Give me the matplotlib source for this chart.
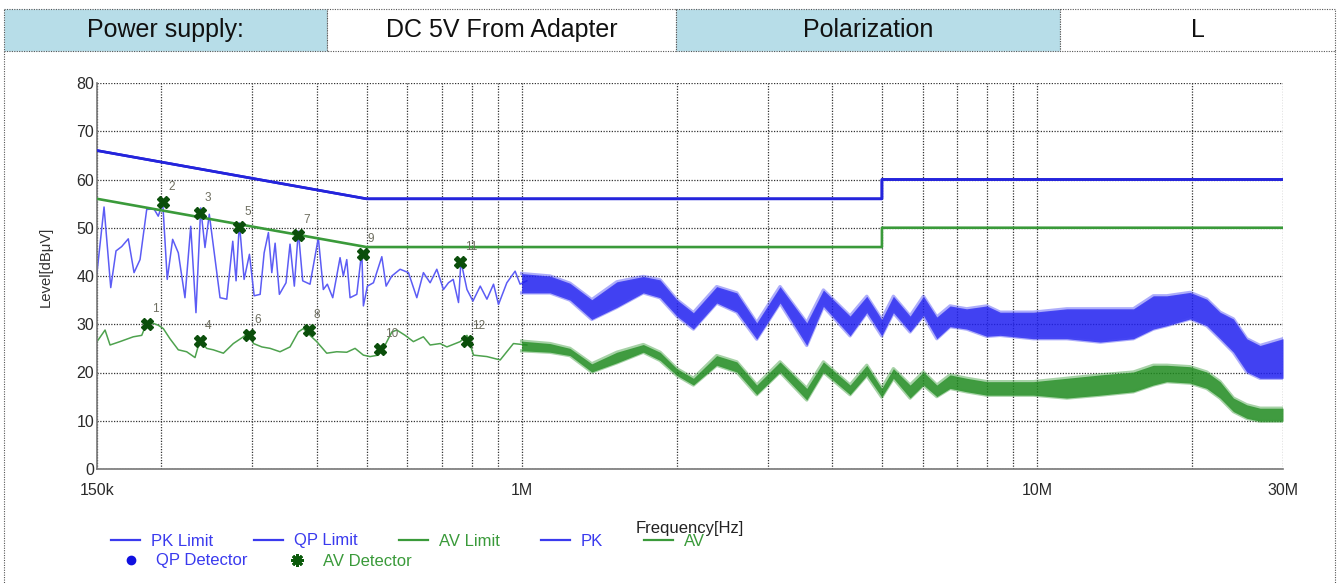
import numpy as np
import matplotlib.pyplot as plt
from matplotlib.lines import Line2D
from matplotlib.patches import Rectangle
from matplotlib.ticker import LogLocator, NullFormatter

plt.rcParams["font.family"] = ["Liberation Sans", "DejaVu Sans"]

# header row
header_texts = ["Power supply:", "DC 5V From Adapter", "Polarization", "L"]
header_fills = ["#b7dde8", "white", "#b7dde8", "white"]

# limit lines (MHz, dBuV)
limit_freq = [0.15, 0.5, 5.0, 5.0, 30.0]
pk_limit = [66, 56, 56, 60, 60]
qp_limit = [66, 56, 56, 60, 60]
av_limit = [56, 46, 46, 50, 50]

# PK trace below ~1 MHz (kHz, dBuV)
pk_freq_khz = [150.0, 154.8, 159.5, 163.3, 167.5, 172.5, 177.0, 181.8, 187.3, 193.5,
               197.2, 201.2, 205.3, 210.3, 215.7, 222.2, 228.0, 233.4, 238.4, 243.0,
               247.7, 259.9, 267.8, 275.1, 279.2, 283.4, 289.4, 296.4, 302.7, 310.9,
               316.5, 322.6, 327.5, 332.4, 338.8, 349.0, 355.3, 362.2, 368.7, 376.0,
               388.5, 403.2, 412.3, 419.7, 430.0, 444.3, 450.9, 457.8, 464.6, 478.8,
               489.6, 493.1, 502.0, 515.7, 535.4, 545.8, 559.9, 581.0, 603.0, 626.0,
               644.7, 664.4, 684.5, 705.2, 721.1, 736.5, 754.2, 762.3, 783.2, 804.4,
               831.1, 856.3, 881.9, 901.7, 935.9, 971.2, 993.1, 1023.2]
pk_level = [40.7, 54.3, 37.6, 45.2, 46.1, 47.7, 40.7, 43.4, 53.8, 53.9,
            52.4, 55.2, 39.3, 47.6, 44.8, 35.5, 50.3, 32.4, 54.1, 45.9,
            52.8, 35.5, 35.2, 47.2, 39.0, 51.0, 39.3, 44.5, 35.9, 36.2,
            44.8, 49.0, 40.7, 46.8, 36.2, 38.6, 46.6, 37.9, 49.3, 39.0,
            38.3, 47.9, 37.2, 38.3, 35.5, 43.8, 40.0, 43.4, 35.5, 36.2,
            45.2, 33.8, 37.9, 38.6, 44.0, 37.9, 40.0, 41.4, 40.7, 35.5,
            40.7, 38.6, 41.4, 37.2, 38.6, 39.3, 34.5, 43.1, 37.2, 34.8,
            37.9, 35.2, 38.3, 34.1, 38.6, 41.0, 38.3, 39.0]

# AV trace below ~1 MHz (kHz, dBuV)
av_freq_khz = [150.0, 155.5, 159.0, 166.2, 176.4, 183.2, 187.3, 191.5, 197.2, 201.7,
               207.8, 215.7, 223.9, 232.4, 237.6, 244.8, 252.2, 263.8, 275.8, 288.5,
               296.4, 301.8, 313.3, 325.1, 339.8, 355.3, 368.7, 377.0, 388.5, 400.3,
               418.6, 437.7, 457.8, 475.1, 493.1, 508.1, 527.3, 539.2, 559.9, 572.5,
               594.2, 616.5, 644.7, 664.4, 695.0, 716.0, 759.9, 783.2, 806.6, 856.3,
               908.6, 963.9, 1023.2]
av_level = [26.4, 28.8, 25.7, 26.4, 27.4, 27.7, 30.3, 30.3, 29.8, 29.1,
            27.0, 24.7, 24.3, 23.1, 26.7, 25.0, 24.7, 24.0, 26.0, 27.4,
            28.4, 26.0, 25.3, 25.0, 24.3, 25.3, 28.4, 29.1, 27.7, 26.4,
            24.0, 24.3, 24.2, 25.0, 23.6, 23.3, 23.6, 25.0, 28.4, 28.8,
            27.7, 26.4, 27.4, 25.7, 26.0, 25.3, 26.4, 27.7, 23.6, 23.3,
            22.6, 26.0, 25.7]

# dense part above 1 MHz, read as lower / upper edge of the trace (MHz, dBuV)
band_freq = [1.0, 1.135, 1.241, 1.368, 1.53, 1.722, 1.856, 2.0, 2.154, 2.39,
             2.615, 2.858, 3.172, 3.574, 3.85, 4.337, 4.673, 4.996, 5.263, 5.671,
             6.02, 6.39, 6.78, 7.30, 7.99, 8.48, 9.84, 11.42, 13.26, 15.38,
             16.81, 17.85, 19.81, 21.34, 22.65, 24.04, 25.52, 27.08, 30.0]
pk_band_lo = [36.5, 36.5, 35.0, 31.0, 33.5, 36.5, 35.5, 31.7, 29.0, 34.4,
              32.5, 26.9, 34.4, 25.6, 33.7, 27.6, 32.4, 27.6, 32.4, 28.4,
              31.8, 27.0, 29.5, 29.0, 27.5, 27.7, 27.0, 27.0, 26.3, 27.0,
              29.0, 29.7, 31.1, 29.7, 27.0, 24.2, 20.1, 18.8, 18.8]
pk_band_hi = [40.5, 40.0, 38.5, 35.1, 38.8, 39.9, 39.2, 35.1, 32.4, 37.8,
              36.5, 30.3, 37.8, 30.3, 37.1, 31.7, 35.8, 31.0, 35.8, 31.7,
              35.8, 31.5, 33.8, 33.2, 33.8, 32.5, 32.5, 33.2, 33.2, 33.2,
              35.9, 35.9, 36.6, 35.2, 32.5, 31.1, 27.0, 25.6, 27.0]
av_band_lo = [24.5, 24.2, 23.5, 20.1, 22.0, 24.2, 22.5, 19.4, 17.4, 21.5,
              20.1, 15.4, 20.1, 14.3, 20.1, 15.4, 19.4, 14.9, 18.8, 14.7,
              17.4, 15.0, 16.7, 16.0, 15.3, 15.3, 15.3, 14.7, 15.3, 16.0,
              17.4, 18.1, 17.8, 16.7, 14.7, 11.9, 10.5, 9.9, 9.9]
av_band_hi = [26.5, 26.0, 25.0, 21.8, 24.2, 25.8, 24.2, 20.8, 18.8, 23.5,
              22.2, 17.4, 22.2, 16.7, 22.2, 17.4, 21.5, 16.7, 20.8, 17.4,
              20.1, 17.4, 19.5, 18.8, 18.1, 18.1, 18.1, 18.8, 19.5, 20.1,
              21.5, 21.5, 21.2, 20.1, 18.1, 14.7, 13.3, 12.6, 12.6]

# AV detector readings
mark_no = [1, 2, 3, 4, 5, 6, 7, 8, 9, 10, 11, 12]
mark_freq_khz = [187.3, 201.7, 237.6, 237.6, 283.4, 296.4, 368.7, 386.3, 491.8, 531.3, 759.9, 783.2]
mark_level = [30.0, 55.3, 53.0, 26.5, 50.1, 27.8, 48.4, 28.8, 44.6, 24.8, 43.0, 26.5]

BLUE = "#2424dc"
GREEN = "#3a9a3a"
DOT = (0, (1, 1.2))

fig = plt.figure(figsize=(13.38, 5.83), dpi=100)

# pixel overlay for the table frame
frame = fig.add_axes([0, 0, 1, 1])
frame.set_xlim(0, 1338)
frame.set_ylim(583, 0)
frame.axis("off")
edges = [4, 327, 676, 1060, 1335]
for i, txt in enumerate(header_texts):
    x0, x1 = edges[i], edges[i + 1]
    frame.add_patch(Rectangle((x0, 9), x1 - x0, 42, facecolor=header_fills[i],
                              edgecolor="#555555", lw=0.8, ls=DOT))
    frame.text((x0 + x1) / 2, 30, txt, ha="center", va="center", fontsize=18, color="#111111")
frame.plot([4, 4], [51, 583], color="#555555", lw=0.8, ls=DOT)
frame.plot([1335, 1335], [51, 583], color="#555555", lw=0.8, ls=DOT)

ax = fig.add_axes([97 / 1338, (583 - 469) / 583, 1186 / 1338, 386 / 583])
ax.set_xscale("log")

lim_hz = np.array(limit_freq) * 1e6
ax.plot(lim_hz, pk_limit, color=BLUE, lw=1.9, zorder=3)
ax.plot(lim_hz, qp_limit, color=BLUE, lw=1.9, zorder=3)
ax.plot(lim_hz, av_limit, color=GREEN, lw=1.9, zorder=3)

ax.plot(np.array(pk_freq_khz) * 1e3, pk_level, color="#5c5cf5", lw=1.1, zorder=2)
ax.plot(np.array(av_freq_khz) * 1e3, av_level, color="#4ea24e", lw=1.1, zorder=2)

bf = np.array(band_freq) * 1e6
ax.fill_between(bf, pk_band_lo, pk_band_hi, color="#2020f0", alpha=0.85, lw=0, zorder=2)
ax.plot(bf, pk_band_lo, color="#4a4af5", lw=2.4, alpha=0.45, zorder=2)
ax.plot(bf, pk_band_hi, color="#4a4af5", lw=2.4, alpha=0.45, zorder=2)
ax.fill_between(bf, av_band_lo, av_band_hi, color="#1e8a1e", alpha=0.85, lw=0, zorder=2)
ax.plot(bf, av_band_lo, color="#3c9c3c", lw=2.4, alpha=0.45, zorder=2)
ax.plot(bf, av_band_hi, color="#3c9c3c", lw=2.4, alpha=0.45, zorder=2)

mf = np.array(mark_freq_khz) * 1e3
ax.plot(mf, mark_level, ls="none", marker="X", ms=9, color="#0b4f0b", mec="#0b4f0b", zorder=5)
for n, f, lv in zip(mark_no, mf, mark_level):
    ax.annotate(str(n), (f, lv), xytext=(5, 15), textcoords="offset pixels",
                fontsize=8.5, color="#6e6e60", ha="left", va="center", zorder=6)

ax.set_xlim(150e3, 30e6)
ax.set_ylim(0, 80)
ax.set_xticks([150e3, 1e6, 1e7, 3e7], ["150k", "1M", "10M", "30M"])
ax.xaxis.set_minor_locator(LogLocator(base=10, subs=np.arange(2, 10)))
ax.xaxis.set_minor_formatter(NullFormatter())
ax.set_yticks(np.arange(0, 81, 10))
ax.tick_params(which="both", length=0, labelsize=11.5, labelcolor="#2a2a2a")
ax.tick_params(axis="x", pad=10)
ax.tick_params(axis="y", pad=2)
ax.grid(which="both", axis="x", color="#333333", lw=0.9, ls=DOT)
ax.grid(which="major", axis="y", color="#333333", lw=0.9, ls=DOT)
ax.set_axisbelow(True)
for side in ["top", "right"]:
    ax.spines[side].set_visible(False)
for side in ["left", "bottom"]:
    ax.spines[side].set_color("#777777")
    ax.spines[side].set_linewidth(1.2)

ax.set_ylabel("Level[dBμV]", fontsize=10.7, color="#333333")
ax.yaxis.set_label_coords(-0.037, 0.523)
fig.text(690 / 1338, 1 - 528 / 583, "Frequency[Hz]", ha="center", va="center",
         fontsize=12, color="#222222")

row1 = [Line2D([], [], color="#3a3aee", lw=1.6),
        Line2D([], [], color="#3a3aee", lw=1.6),
        Line2D([], [], color=GREEN, lw=1.6),
        Line2D([], [], color="#3a3aee", lw=1.6),
        Line2D([], [], color=GREEN, lw=1.6)]
leg1 = fig.legend(row1, ["PK Limit", "QP Limit", "AV Limit", "PK", "AV"], ncol=5,
                  loc="center left", bbox_to_anchor=(111 / 1338, 1 - 541 / 583),
                  frameon=False, fontsize=12, handlelength=1.75, handletextpad=0.66,
                  columnspacing=2.45, borderpad=0, borderaxespad=0)
for t, c in zip(leg1.get_texts(), ["#3a3aee", "#3a3aee", GREEN, "#3a3aee", GREEN]):
    t.set_color(c)

row2 = [Line2D([], [], ls="none", marker="o", ms=6, color="#1010e0"),
        Line2D([], [], ls="none", marker=(8, 2, 0), ms=9, mew=2.0, color="#0b5a0b")]
leg2 = fig.legend(row2, ["QP Detector", "AV Detector"], ncol=2,
                  loc="center left", bbox_to_anchor=(116 / 1338, 1 - 561 / 583),
                  frameon=False, fontsize=12, handlelength=1.75, handletextpad=0.66,
                  columnspacing=2.1, borderpad=0, borderaxespad=0)
for t, c in zip(leg2.get_texts(), ["#3a3aee", GREEN]):
    t.set_color(c)

fig.savefig("out.png", dpi=100)
